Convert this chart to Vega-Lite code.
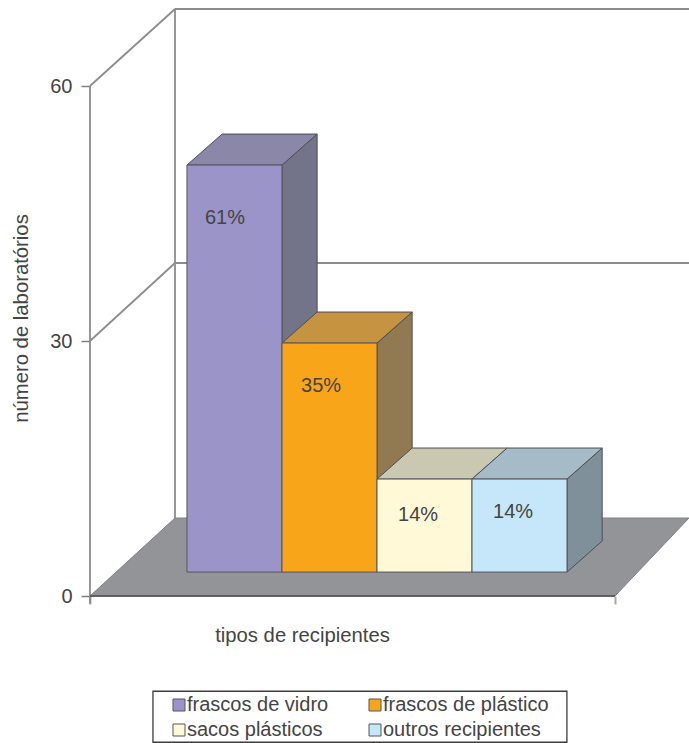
{"$schema":"https://vega.github.io/schema/vega-lite/v6.json","width":689,"height":743,"padding":0,"autosize":{"type":"none"},"background":"white","config":{"view":{"stroke":null},"font":"Liberation Sans"},
"encoding":{"x":{"field":"x","type":"quantitative","scale":{"domain":[-1.968,5.284],"nice":false,"zero":false},"axis":{"values":[-1.021,4.505],"labels":false,"grid":false,"domain":false,"offset":-147,"tickSize":8,"tickColor":"#a8a8a8","tickWidth":2,"title":"tipos de recipientes","titleFont":"Liberation Sans","titleFontSize":20.3,"titleFontWeight":"normal","titleColor":"#444444","titleX":302,"titleY":29}},"y":{"field":"y","type":"quantitative","scale":{"domain":[-17.29,70.12],"nice":false,"zero":false},"axis":{"values":[0,30,60],"grid":false,"domain":false,"offset":-90,"tickSize":9,"tickColor":"#808080","tickWidth":1.5,"labelFont":"Liberation Sans","labelFontSize":20,"labelColor":"#444444","labelPadding":9,"title":"número de laboratórios","titleFont":"Liberation Sans","titleFontSize":20.3,"titleFontWeight":"normal","titleColor":"#444444","titleX":-59,"titleY":318}}},
"layer":[
{"data":{"values":[
{"wall":"esquerda","x":-1.021,"y":60},{"wall":"esquerda","x":-1.021,"y":-0.9},
{"wall":"fundo","x":-0.126,"y":69.06},{"wall":"fundo","x":-0.126,"y":9.18},
{"wall":"topo","x":-0.126,"y":69.06},{"wall":"topo","x":5.284,"y":69.06},
{"wall":"grade30","x":-0.126,"y":39.18},{"wall":"grade30","x":5.284,"y":39.18},
{"wall":"diag60","x":-1.021,"y":60},{"wall":"diag60","x":-0.126,"y":69.06},
{"wall":"diag30","x":-1.021,"y":30},{"wall":"diag30","x":-0.126,"y":39.18}]},
"mark":{"type":"line","color":"#8c8c8c","strokeWidth":1.8},"encoding":{"detail":{"field":"wall"}}},
{"data":{"values":[{"x":-1.021,"y":0,"y2":0},{"x":-0.126,"y":9.18,"y2":0},{"x":4.505,"y":9.18,"y2":0},{"x":5.284,"y":9.18,"y2":9.18}]},
"mark":{"type":"area","color":"#929497","stroke":"#808184","strokeWidth":1},"encoding":{"y2":{"field":"y2"}}},
{"data":{"values":[{"x":-1.021,"y":0},{"x":4.505,"y":0}]},"mark":{"type":"line","color":"#4a4a4a","strokeWidth":1.5}},
{"data":{"values":[
{"face":"lado vidro","x":1,"y":50.7,"y2":2.82},{"face":"lado vidro","x":1.37,"y":54.35,"y2":6.47},
{"face":"topo vidro","x":0,"y":50.7,"y2":50.7},{"face":"topo vidro","x":0.37,"y":54.35,"y2":50.7},{"face":"topo vidro","x":1,"y":54.35,"y2":50.7},{"face":"topo vidro","x":1.37,"y":54.35,"y2":54.35},
{"face":"lado plastico","x":2,"y":29.76,"y2":2.82},{"face":"lado plastico","x":2.37,"y":33.41,"y2":6.47},
{"face":"topo plastico","x":1,"y":29.76,"y2":29.76},{"face":"topo plastico","x":1.37,"y":33.41,"y2":29.76},{"face":"topo plastico","x":2,"y":33.41,"y2":29.76},{"face":"topo plastico","x":2.37,"y":33.41,"y2":33.41},
{"face":"lado sacos","x":3,"y":13.76,"y2":2.82},{"face":"lado sacos","x":3.37,"y":17.41,"y2":6.47},
{"face":"topo sacos","x":2,"y":13.76,"y2":13.76},{"face":"topo sacos","x":2.37,"y":17.41,"y2":13.76},{"face":"topo sacos","x":3,"y":17.41,"y2":13.76},{"face":"topo sacos","x":3.37,"y":17.41,"y2":17.41},
{"face":"lado outros","x":4,"y":13.76,"y2":2.82},{"face":"lado outros","x":4.37,"y":17.41,"y2":6.47},
{"face":"topo outros","x":3,"y":13.76,"y2":13.76},{"face":"topo outros","x":3.37,"y":17.41,"y2":13.76},{"face":"topo outros","x":4,"y":17.41,"y2":13.76},{"face":"topo outros","x":4.37,"y":17.41,"y2":17.41}]},
"mark":{"type":"area","stroke":"#4d4d55","strokeWidth":1,"opacity":1},
"encoding":{"y2":{"field":"y2"},"color":{"field":"face","type":"nominal","legend":null,"scale":{"domain":["lado vidro","topo vidro","lado plastico","topo plastico","lado sacos","topo sacos","lado outros","topo outros"],"range":["#747488","#8b87a8","#917a52","#c69341","#b3b19c","#cac8b0","#7f909a","#a5bcc8"]}}}},
{"data":{"values":[
{"recipiente":"frascos de vidro","x":0,"x2":1,"y":50.7,"y2":2.82},
{"recipiente":"frascos de plástico","x":1,"x2":2,"y":29.76,"y2":2.82},
{"recipiente":"sacos plásticos","x":2,"x2":3,"y":13.76,"y2":2.82},
{"recipiente":"outros recipientes","x":3,"x2":4,"y":13.76,"y2":2.82}]},
"mark":{"type":"rect","stroke":"#55555c","strokeWidth":1},
"encoding":{"x2":{"field":"x2"},"y2":{"field":"y2"},"fill":{"field":"recipiente","type":"nominal","sort":null,"scale":{"domain":["frascos de vidro","frascos de plástico","sacos plásticos","outros recipientes"],"range":["#9b94c8","#f9a51a","#fff9d8","#c5e7f9"]},"legend":{"title":null,"orient":"none","legendX":169,"legendY":695,"direction":"horizontal","columns":2,"symbolType":"square","symbolSize":144,"symbolStrokeColor":"#55555c","symbolStrokeWidth":1,"labelFont":"Liberation Sans","labelFontSize":20,"labelColor":"#444444","labelOffset":-2,"labelLimit":300,"columnPadding":36,"rowPadding":5,"padding":0}}}},
{"data":{"values":[{"x":-0.358,"x2":3.999,"y":-11.2,"y2":-17.2}]},"mark":{"type":"rect","fill":null,"stroke":"#3c3c3c","strokeWidth":1.3},"encoding":{"x2":{"field":"x2"},"y2":{"field":"y2"}}},
{"data":{"values":[{"rotulo":"61%","x":0.4,"y":44.5},{"rotulo":"35%","x":1.411,"y":24.7},{"rotulo":"14%","x":2.432,"y":9.5},{"rotulo":"14%","x":3.432,"y":9.9}]},
"mark":{"type":"text","font":"Liberation Sans","fontSize":20,"color":"#444444","align":"center","baseline":"middle"},"encoding":{"text":{"field":"rotulo"}}}
]}
